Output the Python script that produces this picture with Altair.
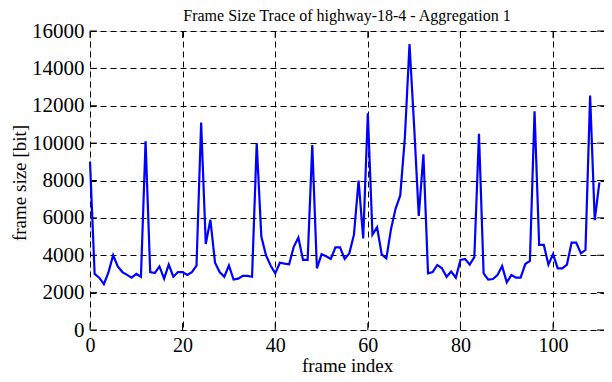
import altair as alt
import pandas as pd

frame_size = [
    9000, 3000, 2800, 2450, 3100, 4000, 3400, 3100, 2950, 2800,
    3000, 2850, 10100, 3100, 3050, 3400, 2750, 3500, 2850, 3100,
    3100, 2950, 3100, 3450, 11100, 4600, 5900, 3600, 3100, 2850,
    3450, 2700, 2750, 2900, 2900, 2850, 10000, 5000, 4000, 3450,
    3030, 3600, 3550, 3520, 4450, 4950, 3750, 3750, 9900, 3300,
    4050, 3950, 3800, 4420, 4420, 3800, 4100, 5100, 8000, 4900,
    11600, 5100, 5500, 4050, 3830, 5400, 6500, 7200, 10300, 15300,
    10900, 6100, 9400, 3030, 3100, 3480, 3300, 2850, 3130, 2800,
    3750, 3800, 3500, 3900, 10500, 3030, 2700, 2730, 2940, 3420,
    2550, 2940, 2800, 2800, 3530, 3700, 11700, 4550, 4550, 3500,
    4060, 3300, 3300, 3500, 4680, 4680, 4100, 4280, 12550, 5880,
    7900,
]
frame_index = list(range(len(frame_size)))
x_ticks = [0, 20, 40, 60, 80, 100]
y_ticks = [0, 2000, 4000, 6000, 8000, 10000, 12000, 14000, 16000]

W, H = 514, 299
TL = 7
FONT = "Liberation Serif"

df = pd.DataFrame({"frame": frame_index, "size": frame_size})
xt = pd.DataFrame({"frame": x_ticks})
yt = pd.DataFrame({"size": y_ticks})

xscale = alt.Scale(domain=[0, 111], nice=False, zero=False)
yscale = alt.Scale(domain=[0, 16000], nice=False)

x_axis = alt.Axis(values=x_ticks, format="d", labelOverlap=False,
                  title="frame index", grid=True,
                  gridColor="black", gridDash=[6, 4], gridWidth=1,
                  gridOpacity=1, ticks=False, domain=False,
                  labelFont=FONT, labelFontSize=20, labelColor="black",
                  labelPadding=5, labelFlush=False,
                  titleFont=FONT, titleFontSize=19,
                  titleFontWeight="normal", titleColor="black",
                  titleBaseline="alphabetic", titleY=41)
y_axis = alt.Axis(values=y_ticks, format="d", labelOverlap=False,
                  title="frame size [bit]", grid=True,
                  gridColor="black", gridDash=[6, 4], gridWidth=1,
                  gridOpacity=1, ticks=False, domain=False,
                  labelFont=FONT, labelFontSize=21, labelColor="black",
                  labelPadding=6, labelFlush=False,
                  titleFont=FONT, titleFontSize=19,
                  titleFontWeight="normal", titleColor="black",
                  titleBaseline="alphabetic", titleX=-65,
                  titleY=H / 2 + 2)

X = lambda: alt.X("frame:Q", scale=xscale, axis=x_axis)
Y = lambda: alt.Y("size:Q", scale=yscale, axis=y_axis)

line = alt.Chart(df).mark_line(color="#0000ff", strokeWidth=2.2).encode(
    x=X(), y=Y())

ytick_l = alt.Chart(yt).mark_rule(color="black", strokeWidth=1).encode(
    y=Y(), x=alt.value(0), x2=alt.value(TL))
ytick_r = alt.Chart(yt).mark_rule(color="black", strokeWidth=1).encode(
    y=Y(), x=alt.value(W - TL), x2=alt.value(W))
xtick_b = alt.Chart(xt).mark_rule(color="black", strokeWidth=1).encode(
    x=X(), y=alt.value(H), y2=alt.value(H - TL))
xtick_t = alt.Chart(xt).mark_rule(color="black", strokeWidth=1).encode(
    x=X(), y=alt.value(0), y2=alt.value(TL))

chart = alt.layer(ytick_l, ytick_r, xtick_b, xtick_t, line).properties(
    width=W, height=H,
    title=alt.TitleParams("Frame Size Trace of highway-18-4 - Aggregation 1",
                          font=FONT, fontSize=16, fontWeight="normal",
                          color="black", offset=0, dy=17, frame="group",
                          baseline="alphabetic", anchor="middle"),
    autosize=alt.AutoSizeParams(type="none"),
    padding={"left": 82, "top": 23, "right": 0, "bottom": 44},
).configure_view(stroke="black", strokeWidth=2).configure(background="white")

chart.save("out.html", embed_options={"renderer": "svg", "actions": False})
